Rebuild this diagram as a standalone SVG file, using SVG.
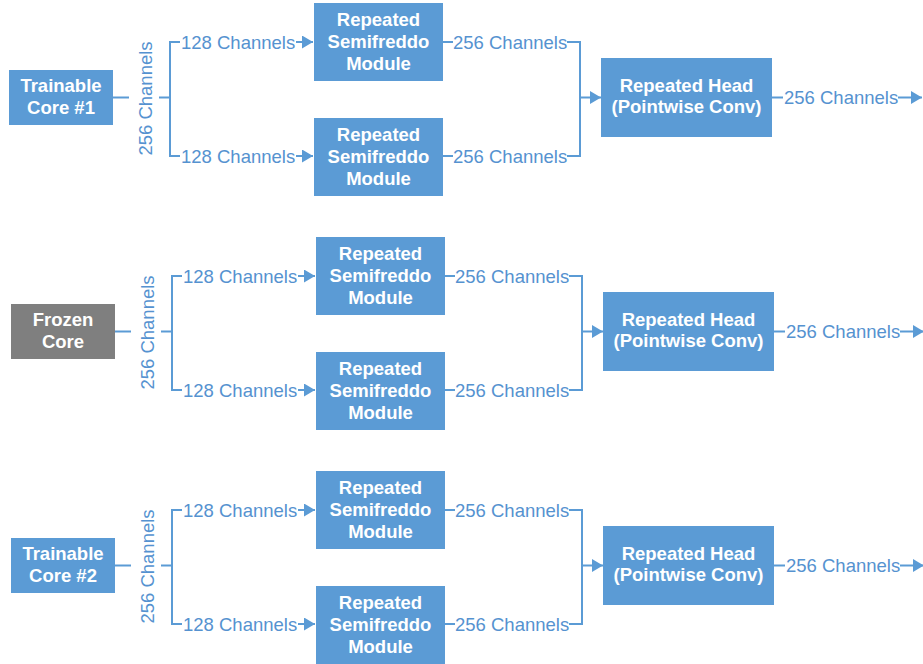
<svg xmlns="http://www.w3.org/2000/svg" width="923" height="664" viewBox="0 0 923 664">
  <defs>
    <style>
      .box { fill: #5B9BD5; }
      .frozen { fill: #7F7F7F; }
      .node-text { font-family: "Liberation Sans", Arial, sans-serif; font-size: 18.5px; font-weight: bold; fill: #FFFFFF; text-anchor: middle; }
      .label { font-family: "Liberation Sans", Arial, sans-serif; font-size: 18.5px; fill: #5592D0; }
      .wire { fill: none; stroke: #5B9BD5; stroke-width: 2; }
      .arrow { fill: none; stroke: #5B9BD5; stroke-width: 2; marker-end: url(#head); }
    </style>
    <marker id="head" markerUnits="userSpaceOnUse" markerWidth="13" markerHeight="13" refX="11" refY="6.5" orient="auto">
      <path d="M0,0 L11,6.5 L0,13 z" fill="#5B9BD5"/>
    </marker>

    <!-- one branch: core output split into two modules, merged into a head -->
    <g id="branch-wires">
      <path class="wire" d="M113 97.5 H129"/>
      <path class="wire" d="M159 97.5 H170"/>
      <path class="wire" d="M180 42 H170 V156 H180"/>
      <path class="arrow" d="M296 42 H313"/>
      <path class="arrow" d="M296 156 H313"/>
      <path class="wire" d="M443 42 H453"/>
      <path class="wire" d="M443 156 H453"/>
      <path class="wire" d="M567 42 H580 V156 H567"/>
      <path class="arrow" d="M580 97.5 H601"/>
      <path class="wire" d="M772 97.5 H783"/>
      <path class="arrow" d="M898 97.5 H922"/>
      <text class="label" transform="translate(151.5 98.5) rotate(-90)" text-anchor="middle">256 Channels</text>
      <text class="label" x="181" y="49">128 Channels</text>
      <text class="label" x="181" y="163">128 Channels</text>
      <text class="label" x="453" y="49">256 Channels</text>
      <text class="label" x="453" y="163">256 Channels</text>
      <text class="label" x="784" y="103.5">256 Channels</text>
    </g>
  </defs>

  <!-- connectors -->
  <g id="connectors">
    <use href="#branch-wires"/>
    <use href="#branch-wires" transform="translate(2 234)"/>
    <use href="#branch-wires" transform="translate(2 468)"/>
  </g>

  <!-- branch 1 -->
  <g id="trainable-core-1">
    <rect class="box" x="9" y="70" width="104" height="55"/>
    <text class="node-text" x="61" y="92">Trainable</text>
    <text class="node-text" x="61" y="114">Core #1</text>
  </g>
  <g id="semifreddo-1a">
    <rect class="box" x="314" y="3" width="129" height="78"/>
    <text class="node-text" x="378.5" y="26">Repeated</text>
    <text class="node-text" x="378.5" y="48">Semifreddo</text>
    <text class="node-text" x="378.5" y="70">Module</text>
  </g>
  <g id="semifreddo-1b">
    <rect class="box" x="314" y="118" width="129" height="78"/>
    <text class="node-text" x="378.5" y="140.5">Repeated</text>
    <text class="node-text" x="378.5" y="162.5">Semifreddo</text>
    <text class="node-text" x="378.5" y="184.5">Module</text>
  </g>
  <g id="head-1">
    <rect class="box" x="601" y="58" width="171" height="79"/>
    <text class="node-text" x="686.5" y="92">Repeated Head</text>
    <text class="node-text" x="686.5" y="113">(Pointwise Conv)</text>
  </g>

  <!-- branch 2 -->
  <g id="frozen-core">
    <rect class="frozen" x="11" y="304" width="104" height="55"/>
    <text class="node-text" x="63" y="326">Frozen</text>
    <text class="node-text" x="63" y="348">Core</text>
  </g>
  <g id="semifreddo-2a">
    <rect class="box" x="316" y="237" width="129" height="78"/>
    <text class="node-text" x="380.5" y="260">Repeated</text>
    <text class="node-text" x="380.5" y="282">Semifreddo</text>
    <text class="node-text" x="380.5" y="304">Module</text>
  </g>
  <g id="semifreddo-2b">
    <rect class="box" x="316" y="352" width="129" height="78"/>
    <text class="node-text" x="380.5" y="374.5">Repeated</text>
    <text class="node-text" x="380.5" y="396.5">Semifreddo</text>
    <text class="node-text" x="380.5" y="418.5">Module</text>
  </g>
  <g id="head-2">
    <rect class="box" x="603" y="292" width="171" height="79"/>
    <text class="node-text" x="688.5" y="326">Repeated Head</text>
    <text class="node-text" x="688.5" y="347">(Pointwise Conv)</text>
  </g>

  <!-- branch 3 -->
  <g id="trainable-core-2">
    <rect class="box" x="11" y="538" width="104" height="55"/>
    <text class="node-text" x="63" y="560">Trainable</text>
    <text class="node-text" x="63" y="582">Core #2</text>
  </g>
  <g id="semifreddo-3a">
    <rect class="box" x="316" y="471" width="129" height="78"/>
    <text class="node-text" x="380.5" y="494">Repeated</text>
    <text class="node-text" x="380.5" y="516">Semifreddo</text>
    <text class="node-text" x="380.5" y="538">Module</text>
  </g>
  <g id="semifreddo-3b">
    <rect class="box" x="316" y="586" width="129" height="78"/>
    <text class="node-text" x="380.5" y="608.5">Repeated</text>
    <text class="node-text" x="380.5" y="630.5">Semifreddo</text>
    <text class="node-text" x="380.5" y="652.5">Module</text>
  </g>
  <g id="head-3">
    <rect class="box" x="603" y="526" width="171" height="79"/>
    <text class="node-text" x="688.5" y="560">Repeated Head</text>
    <text class="node-text" x="688.5" y="581">(Pointwise Conv)</text>
  </g>
</svg>
